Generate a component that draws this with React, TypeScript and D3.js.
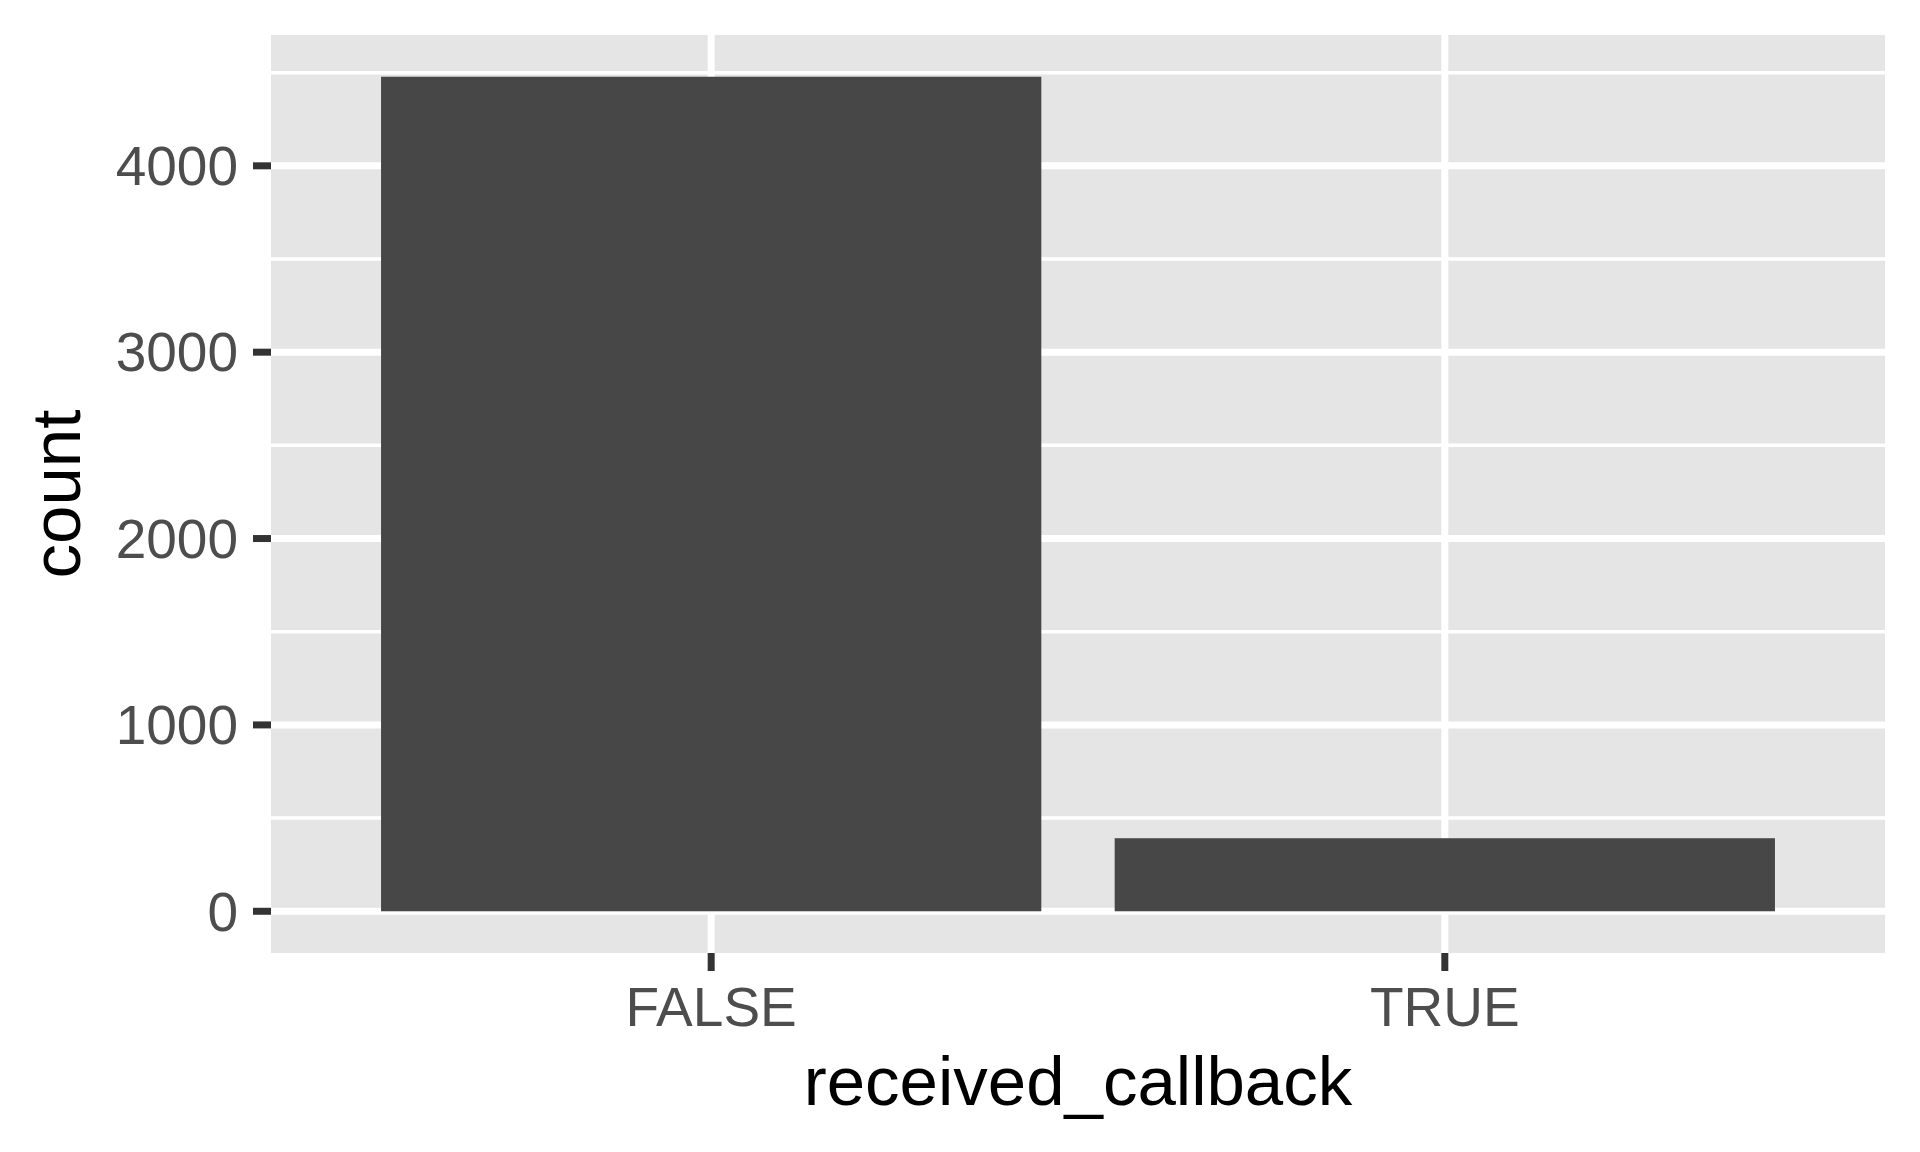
import React, { useEffect, useRef } from 'react';
import * as d3 from 'd3';

// counts of received_callback
const categories = ['FALSE', 'TRUE'];
const counts = [4478, 392];
const yTicks = [0, 1000, 2000, 3000, 4000];
const yMinorTicks = [500, 1500, 2500, 3500, 4500];

const App: React.FC = () => {
  const ref = useRef<SVGSVGElement>(null);

  useEffect(() => {
    if (!ref.current) return;
    const width = 1920;
    const height = 1152;
    const panel = { left: 271, right: 1885, top: 35, bottom: 953 };
    const font = "'Liberation Sans', Arial, Helvetica, sans-serif";

    const svg = d3.select(ref.current)
      .attr('width', width)
      .attr('height', height)
      .attr('viewBox', [0, 0, width, height]);

    svg.selectAll('*').remove();

    svg.append('rect')
      .attr('width', width)
      .attr('height', height)
      .attr('fill', '#ffffff');

    // ggplot style discrete axis: 0.6 expansion on each side
    const x = d3.scaleLinear()
      .domain([0.4, categories.length + 0.6])
      .range([panel.left, panel.right]);
    const xPos = (i: number) => x(i + 1);
    const barHalf = (x(1.45) - x(1)) ;

    const yMax = d3.max(counts) as number;
    const pad = yMax * 0.05;
    const y = d3.scaleLinear()
      .domain([-pad, yMax + pad])
      .range([panel.bottom, panel.top]);

    svg.append('rect')
      .attr('x', panel.left)
      .attr('y', panel.top)
      .attr('width', panel.right - panel.left)
      .attr('height', panel.bottom - panel.top)
      .attr('fill', '#e5e5e5');

    // minor grid
    svg.append('g')
      .selectAll('line')
      .data(yMinorTicks)
      .enter().append('line')
      .attr('x1', panel.left)
      .attr('x2', panel.right)
      .attr('y1', d => y(d))
      .attr('y2', d => y(d))
      .attr('stroke', '#ffffff')
      .attr('stroke-width', 3.5);

    // major grid
    svg.append('g')
      .selectAll('line')
      .data(yTicks)
      .enter().append('line')
      .attr('x1', panel.left)
      .attr('x2', panel.right)
      .attr('y1', d => y(d))
      .attr('y2', d => y(d))
      .attr('stroke', '#ffffff')
      .attr('stroke-width', 7);

    svg.append('g')
      .selectAll('line')
      .data(categories)
      .enter().append('line')
      .attr('x1', (_, i) => xPos(i))
      .attr('x2', (_, i) => xPos(i))
      .attr('y1', panel.top)
      .attr('y2', panel.bottom)
      .attr('stroke', '#ffffff')
      .attr('stroke-width', 7);

    // bars
    svg.append('g')
      .selectAll('rect')
      .data(counts)
      .enter().append('rect')
      .attr('x', (_, i) => xPos(i) - barHalf)
      .attr('width', barHalf * 2)
      .attr('y', d => y(d))
      .attr('height', d => y(0) - y(d))
      .attr('fill', '#474747');

    // y axis ticks + labels
    const yAxis = svg.append('g');
    yAxis.selectAll('line')
      .data(yTicks)
      .enter().append('line')
      .attr('x1', panel.left - 18)
      .attr('x2', panel.left)
      .attr('y1', d => y(d))
      .attr('y2', d => y(d))
      .attr('stroke', '#333333')
      .attr('stroke-width', 7);
    yAxis.selectAll('text')
      .data(yTicks)
      .enter().append('text')
      .attr('x', panel.left - 18 - 15)
      .attr('y', d => y(d))
      .attr('dy', '0.35em')
      .attr('text-anchor', 'end')
      .attr('fill', '#4d4d4d')
      .style('font-family', font)
      .style('font-size', '55px')
      .text(d => String(d));

    // x axis ticks + labels
    const xAxis = svg.append('g');
    xAxis.selectAll('line')
      .data(categories)
      .enter().append('line')
      .attr('x1', (_, i) => xPos(i))
      .attr('x2', (_, i) => xPos(i))
      .attr('y1', panel.bottom)
      .attr('y2', panel.bottom + 18)
      .attr('stroke', '#333333')
      .attr('stroke-width', 7);
    xAxis.selectAll('text')
      .data(categories)
      .enter().append('text')
      .attr('x', (_, i) => xPos(i))
      .attr('y', 1026)
      .attr('text-anchor', 'middle')
      .attr('fill', '#4d4d4d')
      .style('font-family', font)
      .style('font-size', '55px')
      .text(d => d);

    // axis titles
    svg.append('text')
      .attr('x', (panel.left + panel.right) / 2)
      .attr('y', 1105)
      .attr('text-anchor', 'middle')
      .attr('fill', '#000000')
      .style('font-family', font)
      .style('font-size', '69px')
      .text('received_callback');

    svg.append('text')
      .attr('transform', `translate(80,${(panel.top + panel.bottom) / 2}) rotate(-90)`)
      .attr('text-anchor', 'middle')
      .attr('fill', '#000000')
      .style('font-family', font)
      .style('font-size', '69px')
      .text('count');
  }, []);

  return (
    <svg ref={ref} style={{ position: 'absolute', left: 0, top: 0, display: 'block' }}></svg>
  );
};

export default App;
